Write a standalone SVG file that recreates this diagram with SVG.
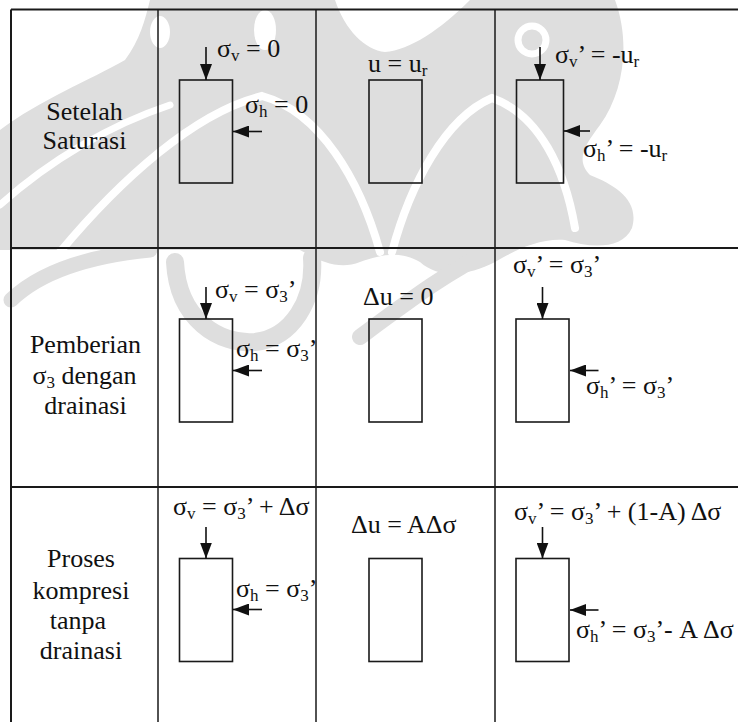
<svg xmlns="http://www.w3.org/2000/svg" width="738" height="722" viewBox="0 0 738 722">
  <style>
    .wm { fill: #dedede; }
    .wml { fill: none; stroke: #ffffff; stroke-linecap: round; }
    .wmb { fill: none; stroke: #dedede; stroke-linecap: round; }
    .grid { stroke: #1a1a1a; stroke-width: 1.5; fill: none; }
    .edge { stroke: #1a1a1a; stroke-width: 2; fill: none; }
    .box { fill: none; stroke: #1a1a1a; stroke-width: 1.6; }
    .arr { stroke: #111; stroke-width: 1.6; fill: none; marker-end: url(#head); }
    .t { font-size: 26px; fill: #111; }
    .c { text-anchor: middle; }
    .s { font-size: 17px; }
  </style>
  <defs>
    <marker id="head" markerUnits="userSpaceOnUse" markerWidth="16" markerHeight="12" refX="16" refY="6" orient="auto">
      <path d="M0,0 L16,6 L0,12 Z" fill="#111"/>
    </marker>
  </defs>

  <rect width="738" height="722" fill="#ffffff"/>

  <!-- background emblem (light grey) -->
  <g id="emblem">
    <path class="wm" d="M0,130 C40,100 90,80 125,60 C140,40 145,20 150,0 L335,0 C345,30 365,50 385,52 C410,50 440,30 470,0 L615,0 C630,40 625,90 600,125 C585,145 575,160 590,175 C615,185 640,200 632,228 C622,250 590,248 565,240 C540,238 515,250 495,262 C470,275 440,280 420,262 C400,250 380,255 360,262 C340,270 320,262 300,250 L0,250 Z"/>
    <path class="wml" stroke-width="7" d="M0,205 C50,160 110,125 170,105"/>
    <path class="wml" stroke-width="8" d="M60,252 C120,180 195,112 262,96 C320,112 360,180 380,252"/>
    <path class="wml" stroke-width="8" d="M392,252 C410,185 445,118 492,98 C540,115 565,170 575,228"/>
    <ellipse cx="160" cy="32" rx="10" ry="16" fill="#ffffff"/>
    <ellipse cx="265" cy="30" rx="11" ry="20" fill="#ffffff"/>
    <circle cx="532" cy="40" r="14" fill="none" stroke="#ffffff" stroke-width="7"/>
    <path class="wmb" stroke-width="18" d="M175,262 C178,320 220,345 255,342 C292,338 315,300 312,258"/>
    <path class="wmb" stroke-width="15" d="M11,300 C40,272 90,256 150,250"/>
    <path class="wmb" stroke-width="16" d="M360,337 C410,300 450,270 493,250"/>
  </g>

  <!-- table rules -->
  <g id="table">
    <path class="edge" d="M11,9.5 H738 M11,9.5 V722"/>
    <path class="edge" d="M11,248 H738 M11,487 H738"/>
    <path class="grid" d="M158,9.5 V722 M316,9.5 V722 M495,9.5 V722"/>
  </g>

  <g font-family="'Liberation Serif', 'Times New Roman', 'DejaVu Serif', serif">
  <!-- row labels -->
  <g id="label-saturasi">
    <text class="t c" x="84.5" y="120">Setelah</text>
    <text class="t c" x="84.5" y="149">Saturasi</text>
  </g>
  <g id="label-pemberian">
    <text class="t c" x="85.5" y="353">Pemberian</text>
    <text class="t c" x="84.5" y="384">σ<tspan class="s" dy="4">3</tspan><tspan dy="-4"> dengan</tspan></text>
    <text class="t c" x="85.5" y="414">drainasi</text>
  </g>
  <g id="label-kompresi">
    <text class="t c" x="81" y="567">Proses</text>
    <text class="t c" x="81" y="599">kompresi</text>
    <text class="t c" x="78" y="629">tanpa</text>
    <text class="t c" x="81" y="659">drainasi</text>
  </g>

  <!-- row 1: after saturation -->
  <g id="total-1">
    <rect class="box" x="179.5" y="80" width="53" height="103"/>
    <text class="t" x="217" y="57">σ<tspan class="s" dy="4">v</tspan><tspan dy="-4"> = 0</tspan></text>
    <text class="t" x="245" y="113">σ<tspan class="s" dy="4">h</tspan><tspan dy="-4"> = 0</tspan></text>
  </g>
  <g id="pore-1">
    <rect class="box" x="369" y="80" width="53" height="103"/>
    <text class="t" x="368" y="72">u = u<tspan class="s" dy="4">r</tspan></text>
  </g>
  <g id="effective-1">
    <rect class="box" x="516.5" y="80" width="47" height="103"/>
    <text class="t" x="555" y="63">σ<tspan class="s" dy="4">v</tspan><tspan dy="-4">’ = -u</tspan><tspan class="s" dy="4">r</tspan></text>
    <text class="t" x="583" y="157">σ<tspan class="s" dy="4">h</tspan><tspan dy="-4">’ = -u</tspan><tspan class="s" dy="4">r</tspan></text>
  </g>

  <!-- row 2: confining pressure, drained -->
  <g id="total-2">
    <rect class="box" x="179.5" y="319" width="53" height="103"/>
    <text class="t" x="215" y="298">σ<tspan class="s" dy="4">v</tspan><tspan dy="-4"> = σ</tspan><tspan class="s" dy="4">3</tspan><tspan dy="-4">’</tspan></text>
    <text class="t" x="236" y="357">σ<tspan class="s" dy="4">h</tspan><tspan dy="-4"> = σ</tspan><tspan class="s" dy="4">3</tspan><tspan dy="-4">’</tspan></text>
  </g>
  <g id="pore-2">
    <rect class="box" x="369" y="319" width="53" height="103"/>
    <text class="t" x="363" y="305">Δu = 0</text>
  </g>
  <g id="effective-2">
    <rect class="box" x="516" y="319" width="53" height="103"/>
    <text class="t" x="513" y="273">σ<tspan class="s" dy="4">v</tspan><tspan dy="-4">’ = σ</tspan><tspan class="s" dy="4">3</tspan><tspan dy="-4">’</tspan></text>
    <text class="t" x="586" y="394">σ<tspan class="s" dy="4">h</tspan><tspan dy="-4">’ = σ</tspan><tspan class="s" dy="4">3</tspan><tspan dy="-4">’</tspan></text>
  </g>

  <!-- row 3: undrained compression -->
  <g id="total-3">
    <rect class="box" x="179.5" y="558.5" width="53" height="103"/>
    <text class="t" x="173" y="515">σ<tspan class="s" dy="4">v</tspan><tspan dy="-4"> = σ</tspan><tspan class="s" dy="4">3</tspan><tspan dy="-4">’ + Δσ</tspan></text>
    <text class="t" x="236" y="597">σ<tspan class="s" dy="4">h</tspan><tspan dy="-4"> = σ</tspan><tspan class="s" dy="4">3</tspan><tspan dy="-4">’</tspan></text>
  </g>
  <g id="pore-3">
    <rect class="box" x="369" y="558.5" width="53" height="103"/>
    <text class="t" x="351" y="533">Δu = AΔσ</text>
  </g>
  <g id="effective-3">
    <rect class="box" x="516" y="558.5" width="53" height="103"/>
    <text class="t" x="514" y="520">σ<tspan class="s" dy="4">v</tspan><tspan dy="-4">’ = σ</tspan><tspan class="s" dy="4">3</tspan><tspan dy="-4">’ + (1-A) Δσ</tspan></text>
    <text class="t" x="576" y="638">σ<tspan class="s" dy="4">h</tspan><tspan dy="-4">’ = σ</tspan><tspan class="s" dy="4">3</tspan><tspan dy="-4">’- A Δσ</tspan></text>
  </g>
  </g>

  <!-- load arrows -->
  <g id="arrows">
    <line class="arr" x1="206" y1="47" x2="206" y2="80"/>
    <line class="arr" x1="262" y1="131.5" x2="233" y2="131.5"/>
    <line class="arr" x1="540" y1="47" x2="540" y2="80"/>
    <line class="arr" x1="590" y1="131" x2="564" y2="131"/>
    <line class="arr" x1="206" y1="287" x2="206" y2="319"/>
    <line class="arr" x1="262" y1="370.5" x2="233" y2="370.5"/>
    <line class="arr" x1="542.5" y1="287" x2="542.5" y2="319"/>
    <line class="arr" x1="598.5" y1="370.5" x2="570" y2="370.5"/>
    <line class="arr" x1="206" y1="527" x2="206" y2="558.5"/>
    <line class="arr" x1="262" y1="609.5" x2="233" y2="609.5"/>
    <line class="arr" x1="542.5" y1="527" x2="542.5" y2="558.5"/>
    <line class="arr" x1="598.5" y1="610" x2="570" y2="610"/>
  </g>
</svg>
